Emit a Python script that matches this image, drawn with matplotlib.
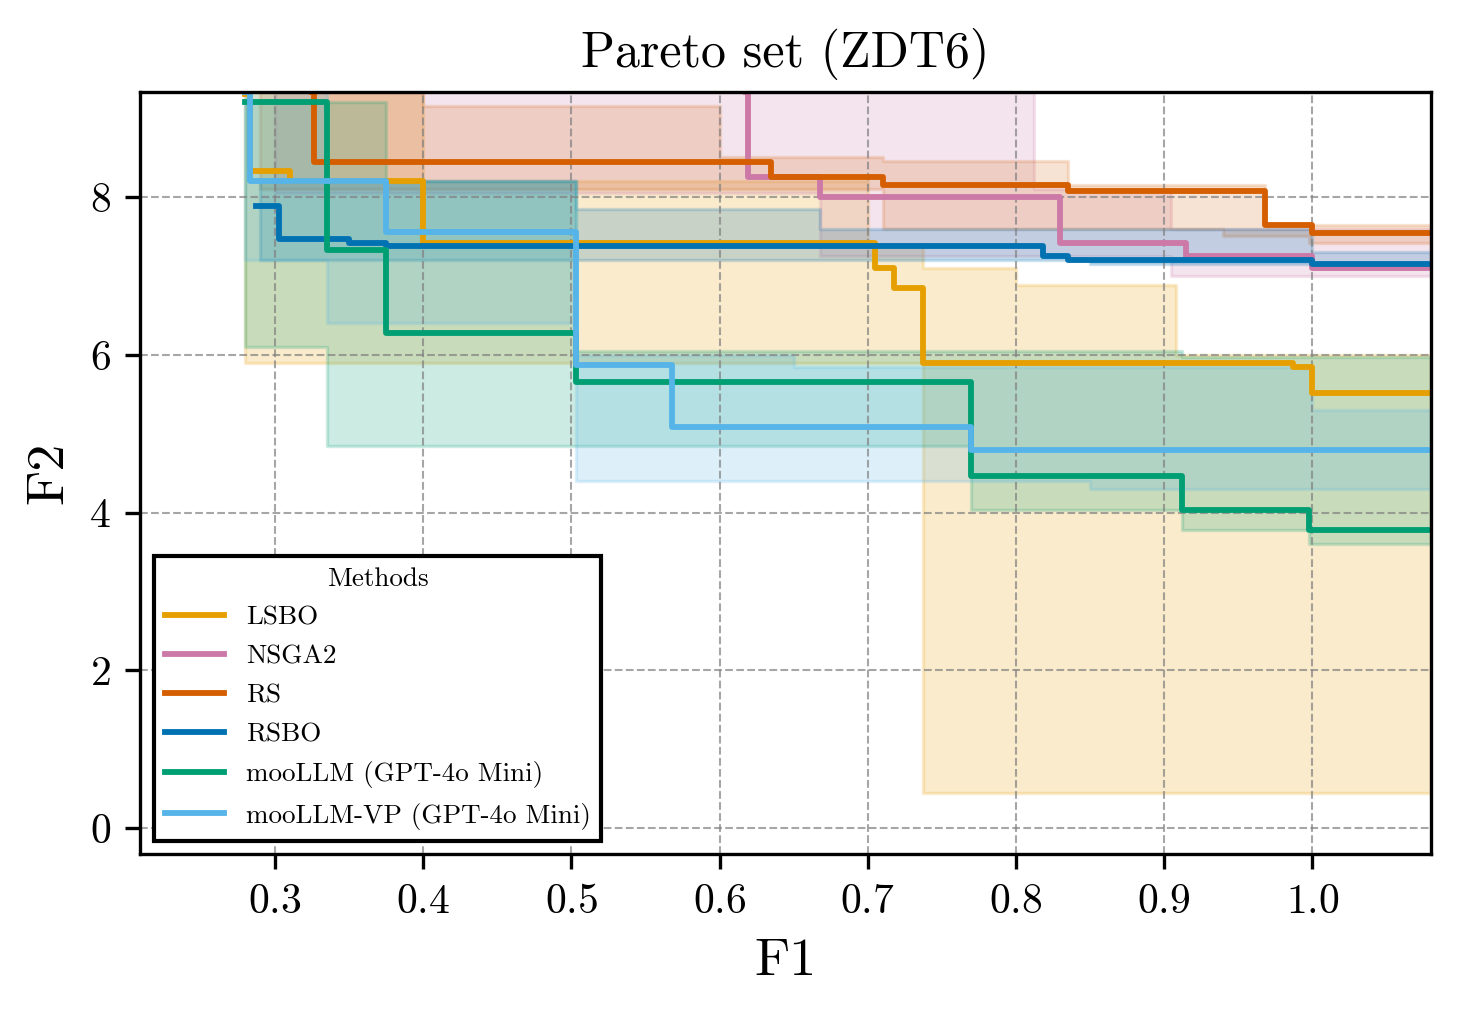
import matplotlib
matplotlib.use("Agg")
import matplotlib.pyplot as plt
import numpy as np

plt.rcParams['font.family'] = 'serif'
plt.rcParams['font.serif'] = ['cmr10']
plt.rcParams['mathtext.fontset'] = 'cm'
plt.rcParams['axes.formatter.use_mathtext'] = True
plt.rcParams['axes.unicode_minus'] = False

TOP = 9.33
XEND = 1.08

methods = ["LSBO", "NSGA2", "RS", "RSBO", "mooLLM (GPT-4o Mini)", "mooLLM-VP (GPT-4o Mini)"]
colors = ["#E69F00", "#CC79A7", "#D55E00", "#0072B2", "#009E73", "#56B4E9"]

# median front (post steps)
med_x = [
    [0.280, 0.283, 0.310, 0.400, 0.705, 0.718, 0.737, 0.987, 1.000],
    [0.618, 0.619, 0.668, 0.830, 0.915, 1.000],
    [0.325, 0.326, 0.635, 0.710, 0.835, 0.968, 1.000],
    [0.287, 0.303, 0.350, 0.375, 0.818, 0.835, 1.000],
    [0.280, 0.335, 0.375, 0.503, 0.770, 0.912, 0.998],
    [0.280, 0.283, 0.375, 0.503, 0.568, 0.770],
]
med_y = [
    [9.30, 8.33, 8.20, 7.42, 7.10, 6.85, 5.90, 5.85, 5.52],
    [9.33, 8.25, 8.00, 7.42, 7.25, 7.10],
    [9.33, 8.44, 8.25, 8.15, 8.08, 7.65, 7.54],
    [7.88, 7.47, 7.42, 7.38, 7.25, 7.20, 7.15],
    [9.20, 7.33, 6.28, 5.65, 4.47, 4.03, 3.78],
    [9.33, 8.20, 7.55, 5.87, 5.08, 4.79],
]

# spread bands (post steps)
band_x = [
    [0.280, 0.400, 0.700, 0.737, 0.800, 0.908],
    [0.300, 0.668, 0.812, 0.905],
    [0.290, 0.400, 0.600, 0.710, 0.835, 0.940, 0.968, 0.998],
    [0.290, 0.503, 0.668, 0.850, 1.000],
    [0.280, 0.335, 0.375, 0.503, 0.770, 0.912, 0.998],
    [0.280, 0.335, 0.503, 0.650, 0.850, 1.000],
]
band_lo = [
    [5.90, 5.90, 5.90, 0.45, 0.45, 0.45],
    [8.05, 7.25, 7.25, 7.00],
    [8.10, 8.10, 8.10, 7.60, 7.60, 7.50, 7.50, 7.42],
    [7.20, 7.20, 7.20, 7.15, 7.10],
    [6.10, 4.85, 4.85, 4.85, 4.03, 3.78, 3.60],
    [7.20, 6.40, 4.40, 4.40, 4.30, 4.30],
]
band_hi = [
    [TOP, 8.20, 7.40, 7.10, 6.88, 6.00],
    [TOP, TOP, 8.10, 7.60],
    [TOP, 9.15, 8.50, 8.45, 8.15, 8.15, 7.65, 7.65],
    [8.20, 7.85, 7.60, 7.60, 7.30],
    [9.20, 9.20, 8.20, 6.05, 6.05, 5.97, 5.97],
    [TOP, 8.20, 6.00, 5.85, 5.85, 5.30],
]
band_alpha = [0.2, 0.2, 0.17, 0.2, 0.2, 0.2]

fig, ax = plt.subplots(figsize=(1460 / 300, 1011 / 300), dpi=300)

for i, name in enumerate(methods):
    bx = band_x[i] + [XEND]
    lo = band_lo[i] + [band_lo[i][-1]]
    hi = band_hi[i] + [band_hi[i][-1]]
    ax.fill_between(bx, lo, hi, step='post', color=colors[i], alpha=band_alpha[i], lw=0.8)

for i, name in enumerate(methods):
    x = med_x[i] + [XEND]
    y = med_y[i] + [med_y[i][-1]]
    if med_y[i][0] >= TOP - 0.01:
        x = [med_x[i][0]] + x
        y = [TOP] + y
    ax.step(x, y, where='post', color=colors[i], lw=1.4, label=name)

ax.set_xlim(0.209, XEND)
ax.set_ylim(-0.33, TOP)
ax.set_xticks([0.3, 0.4, 0.5, 0.6, 0.7, 0.8, 0.9, 1.0])
ax.set_yticks([0, 2, 4, 6, 8])
ax.grid(True, ls='--', lw=0.5, color='gray', alpha=0.7)
ax.tick_params(labelsize=10)
ax.set_xlabel("F1", fontsize=13)
ax.set_ylabel("F2", fontsize=13)
ax.set_title("Pareto set (ZDT6)", fontsize=12)
leg = ax.legend(title="Methods", loc='lower left', fontsize=6.5, title_fontsize=6.5,
                fancybox=False, edgecolor='black', framealpha=1,
                handlelength=2.2, labelspacing=0.55, borderpad=0.4)
leg.get_frame().set_linewidth(1.0)

fig.subplots_adjust(left=0.096, right=0.98, top=0.909, bottom=0.155)
fig.savefig("out.png", dpi=300)
